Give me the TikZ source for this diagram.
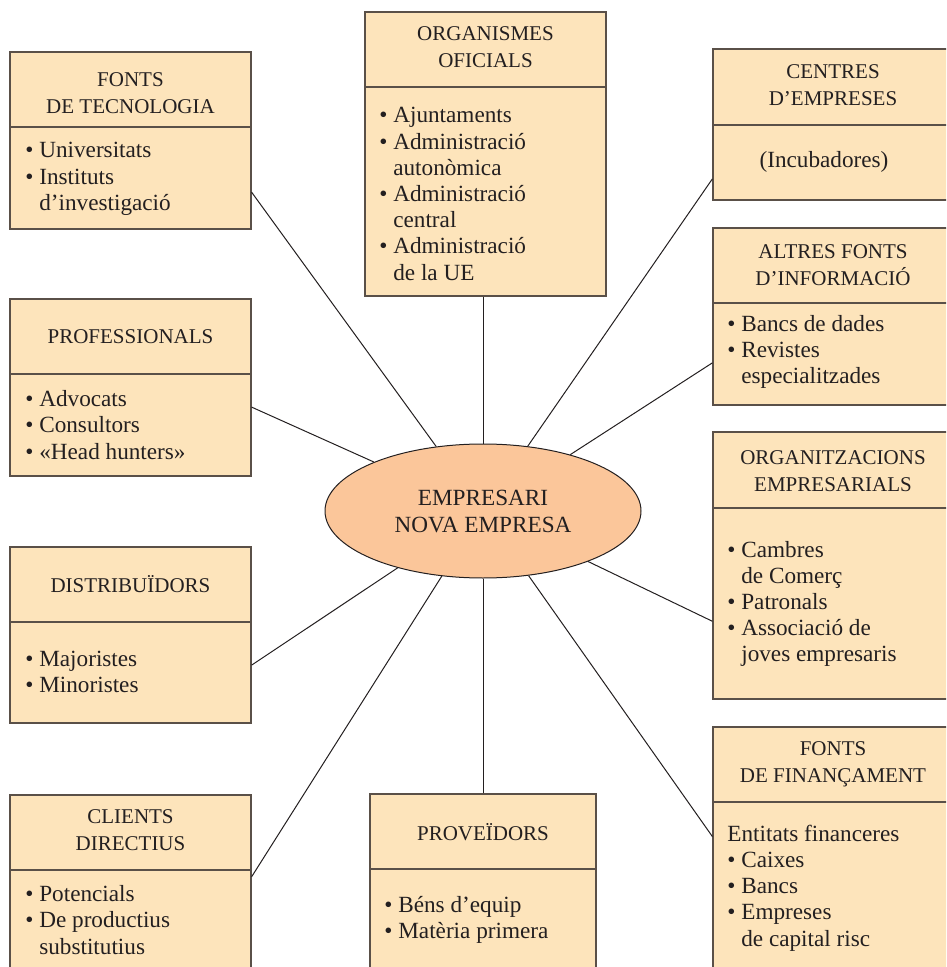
\documentclass[tikz,border=0pt]{standalone}
\usepackage{fontspec}
\setmainfont{Liberation Serif}
\usetikzlibrary{fit,calc,shapes.geometric}

\definecolor{boxfill}{HTML}{FDE4BB}
\definecolor{boxline}{HTML}{5A5048}
\definecolor{hubfill}{HTML}{FBC69A}
\definecolor{inkc}{HTML}{231F20}

% bullet item and continuation indent
\newcommand\bitem{\textbullet\ }
\newcommand\bcont{\phantom{\textbullet\ }}

\tikzset{
  panel/.style={draw=boxline, fill=boxfill, line width=0.6pt, inner sep=0pt},
  divider/.style={draw=boxline, line width=0.6pt},
  headtxt/.style={font=\fontsize{10.5}{13.3}\selectfont, align=center, inner sep=0pt, text=inkc},
  bodytxt/.style={font=\fontsize{11.6}{13.1}\selectfont, align=left, inner sep=0pt, anchor=west, text=inkc},
  hub/.style={ellipse, draw=inkc, fill=hubfill, line width=0.5pt,
    minimum width=158pt, minimum height=67pt, inner sep=0pt,
    font=\fontsize{11.6}{13.5}\selectfont, align=center, text=inkc},
  link/.style={draw=inkc, line width=0.5pt},
}

\begin{document}
\begin{tikzpicture}[x=0.5pt, y=-0.5pt]
\useasboundingbox (0,0) rectangle (946,967);
\clip (0,0) rectangle (946,967);

% ---------- central ellipse ----------
\node[hub] (ell) at (483,511) {EMPRESARI\\NOVA EMPRESA};

% ---------- left column ----------
\node[panel, fit={(10,52) (251,229)}] (tec) {};
\draw[divider] (10,127) -- (251,127);
\node[headtxt] (tec-h) at (130.5,93) {FONTS\\DE TECNOLOGIA};
\node[bodytxt] (tec-b) at (25,179) {\bitem Universitats\\\bitem Instituts\\\bcont d’investigació};

\node[panel, fit={(10,299) (251,476)}] (prof) {};
\draw[divider] (10,374) -- (251,374);
\node[headtxt] (prof-h) at (130.5,337) {PROFESSIONALS};
\node[bodytxt] (prof-b) at (25,425) {\bitem Advocats\\\bitem Consultors\\\bitem «Head hunters»};

\node[panel, fit={(10,547) (251,723)}] (dist) {};
\draw[divider] (10,622) -- (251,622);
\node[headtxt] (dist-h) at (130.5,584) {DISTRIBUÏDORS};
\node[bodytxt] (dist-b) at (25,672) {\bitem Majoristes\\\bitem Minoristes};

\node[panel, fit={(10,795) (251,990)}] (cli) {};
\draw[divider] (10,870) -- (251,870);
\node[headtxt] (cli-h) at (130.5,830) {CLIENTS\\DIRECTIUS};
\node[bodytxt] (cli-b) at (25,920) {\bitem Potencials\\\bitem De productius\\\bcont substitutius};

% ---------- middle column ----------
\node[panel, fit={(365,12) (606,296)}] (org) {};
\draw[divider] (365,87) -- (606,87);
\node[headtxt] (org-h) at (485.5,47) {ORGANISMES\\OFICIALS};
\node[bodytxt] (org-b) at (379,194) {\bitem Ajuntaments\\\bitem Administració\\\bcont autonòmica\\\bitem Administració\\\bcont central\\\bitem Administració\\\bcont de la UE};

\node[panel, fit={(370,794) (596,990)}] (prov) {};
\draw[divider] (370,869) -- (596,869);
\node[headtxt] (prov-h) at (483,832) {PROVEÏDORS};
\node[bodytxt] (prov-b) at (384,920) {\bitem Béns d’equip\\\bitem Matèria primera};

% ---------- right column ----------
\node[panel, fit={(713,49) (960,200)}] (cen) {};
\draw[divider] (713,125) -- (960,125);
\node[headtxt] (cen-h) at (833,85) {CENTRES\\D’EMPRESES};
\node[headtxt, font=\fontsize{11.6}{13.1}\selectfont] (cen-b) at (824,162) {(Incubadores)};

\node[panel, fit={(713,228) (960,405)}] (alt) {};
\draw[divider] (713,303) -- (960,303);
\node[headtxt] (alt-h) at (833,265) {ALTRES FONTS\\D’INFORMACIÓ};
\node[bodytxt] (alt-b) at (727,352) {\bitem Bancs de dades\\\bitem Revistes\\\bcont especialitzades};

\node[panel, fit={(713,432) (960,699)}] (emp) {};
\draw[divider] (713,508) -- (960,508);
\node[headtxt] (emp-h) at (833,471) {ORGANITZACIONS\\EMPRESARIALS};
\node[bodytxt] (emp-b) at (727,604) {\bitem Cambres\\\bcont de Comerç\\\bitem Patronals\\\bitem Associació de\\\bcont joves empresaris};

\node[panel, fit={(713,727) (960,990)}] (fin) {};
\draw[divider] (713,802) -- (960,802);
\node[headtxt] (fin-h) at (833,764) {FONTS\\DE FINANÇAMENT};
\node[bodytxt] (fin-b) at (727,888) {Entitats financeres\\\bitem Caixes\\\bitem Bancs\\\bitem Empreses\\\bcont de capital risc};

% ---------- connectors ----------
\draw[link] ($(tec.north east)!0.79!(tec.south east)$) -- (ell);
\draw[link] ($(prof.north east)!0.61!(prof.south east)$) -- (ell);
\draw[link] ($(dist.north east)!0.67!(dist.south east)$) -- (ell);
\draw[link] ($(cli.north east)!0.42!(cli.south east)$) -- (ell);
\draw[link] (ell.center |- org.south) -- (ell);
\draw[link] (ell.center |- prov.north) -- (ell);
\draw[link] ($(cen.north west)!0.857!(cen.south west)$) -- (ell);
\draw[link] ($(alt.north west)!0.76!(alt.south west)$) -- (ell);
\draw[link] ($(emp.north west)!0.708!(emp.south west)$) -- (ell);
\draw[link] ($(fin.north west)!0.417!(fin.south west)$) -- (ell);
\end{tikzpicture}
\end{document}
